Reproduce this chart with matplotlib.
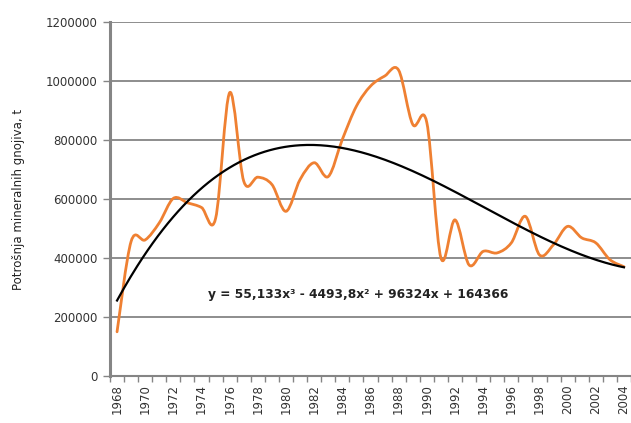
import numpy as np
import matplotlib
matplotlib.use('Agg')
import matplotlib.pyplot as plt
from matplotlib.path import Path
from matplotlib.patches import PathPatch

# potrosnja mineralnih gnojiva po godinama (t)
years = list(range(1968, 2005))
consumption = [150000, 457000, 462000, 520000, 603000, 588000, 572000, 535000,
               962000, 661000, 675000, 650000, 559000, 667000, 724000, 677000,
               803000, 916000, 984000, 1018000, 1038000, 854000, 860000, 401000,
               530000, 377000, 423000, 418000, 452000, 542000, 411000, 446000,
               508000, 469000, 452000, 395000, 371000]
# koeficijenti polinomskog trenda (x = 1..37)
trend_coef = [55.133, -4493.8, 96324, 164366]
eq_text = 'y = 55,133x³ - 4493,8x² + 96324x + 164366'
y_ticks = [0, 200000, 400000, 600000, 800000, 1000000, 1200000]


def smooth_path(x, y):
    # bezier kroz tocke (kao "smoothed line" u Excelu)
    pts = np.column_stack([x, y]).astype(float)
    n = len(pts)
    verts = [pts[0]]
    codes = [Path.MOVETO]
    for i in range(n - 1):
        p0 = pts[i - 1] if i > 0 else pts[i]
        p1 = pts[i]
        p2 = pts[i + 1]
        p3 = pts[i + 2] if i + 2 < n else pts[i + 1]
        c1 = p1 + (p2 - p0) / 6.0
        c2 = p2 - (p3 - p1) / 6.0
        verts += [c1, c2, p2]
        codes += [Path.CURVE4] * 3
    return Path(verts, codes)


x = np.arange(1, len(years) + 1)

fig = plt.figure(figsize=(6.31, 4.23), dpi=100)
ax = fig.add_axes([110 / 631, 47 / 423, 521 / 631, 353.5 / 423])

ax.set_xlim(0.5, len(years) + 0.5)
ax.set_ylim(0, 1200000)

for v in y_ticks:
    ax.axhline(v, color='#858585', lw=1.3, zorder=1)

# stvarni podaci - zaglađena linija
ax.add_patch(PathPatch(smooth_path(x, consumption), facecolor='none',
                       edgecolor='#ef8032', lw=2.0, zorder=3,
                       capstyle='round', joinstyle='round'))
# nevidljivi plot da bi skala ostala vezana uz podatke
ax.plot(x, consumption, alpha=0)

xt = np.linspace(1, len(years), 300)
ax.plot(xt, np.polyval(trend_coef, xt), color='black', lw=1.6, zorder=4)

ax.text(18.1, 275000, eq_text, ha='center', va='center', fontsize=8.8,
        fontweight='bold', color='#222222')

ax.set_yticks(y_ticks)
ax.set_yticklabels([str(v) for v in y_ticks])
major = [i + 1 for i, yr in enumerate(years) if yr % 2 == 0]
ax.set_xticks(major)
ax.set_xticklabels([str(years[i - 1]) for i in major], rotation=90)
ax.set_xticks(np.arange(0.5, len(years) + 1), minor=True)
ax.tick_params(axis='x', which='major', length=0, pad=6, labelsize=8.5,
               labelcolor='#333333')
ax.tick_params(axis='x', which='minor', length=4, width=1, color='#858585',
               direction='out')
ax.tick_params(axis='y', length=5, width=1, color='#858585', pad=4,
               labelsize=8.5, labelcolor='#333333')

for s in ['top', 'right']:
    ax.spines[s].set_visible(False)
ax.spines['left'].set_color('#858585')
ax.spines['left'].set_linewidth(2.2)
ax.spines['bottom'].set_color('#858585')
ax.spines['bottom'].set_linewidth(1.5)

ax.set_ylabel('Potrošnja mineralnih gnojiva, t', fontsize=8.5, color='#222222',
              labelpad=15)

fig.savefig('out.png', dpi=100)
print('Done')
